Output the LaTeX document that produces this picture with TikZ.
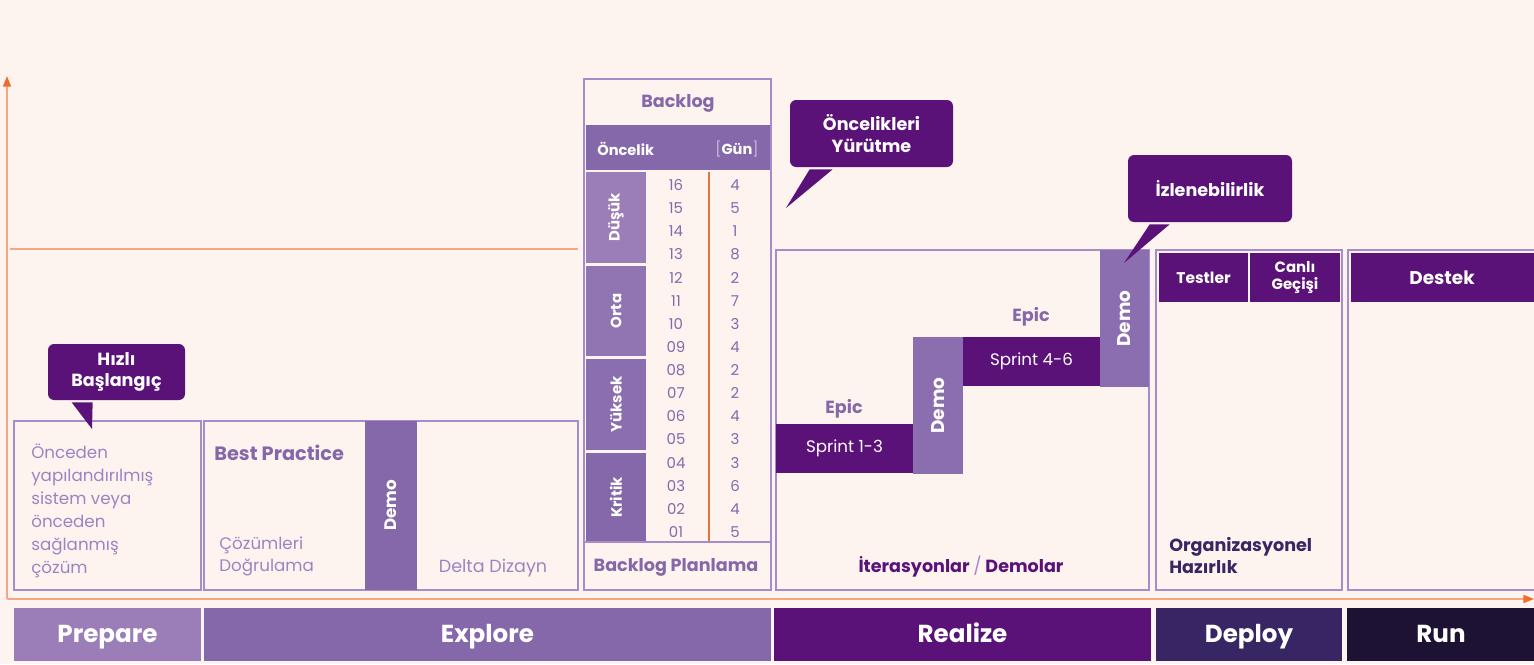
\documentclass[tikz,border=0pt]{standalone}
\usepackage{fontspec}
\setmainfont{Poppins}
\usetikzlibrary{arrows.meta, calc, positioning}
\definecolor{paper}{HTML}{FEF4EF}
\definecolor{lilac}{HTML}{A68CCA}
\definecolor{softtxt}{HTML}{9C84C3}
\definecolor{violet}{HTML}{8468AA}
\definecolor{violetlt}{HTML}{9B7DB8}
\definecolor{violetmd}{HTML}{9175B3}
\definecolor{violetdk}{HTML}{8A6EAF}
\definecolor{plum}{HTML}{5A1178}
\definecolor{indigo}{HTML}{372663}
\definecolor{night}{HTML}{1D1233}
\definecolor{axis}{HTML}{F8A584}
\definecolor{axistip}{HTML}{F26B2A}
\definecolor{rule}{HTML}{E8703A}

\begin{document}
\begin{tikzpicture}[
    x=0.02cm, y=-0.02cm,
    sz/.style 2 args={minimum width={#1*0.02cm}, minimum height={#2*0.02cm}},
    frame/.style={draw=lilac, line width=0.9pt, inner sep=0pt, outer sep=0pt, anchor=north west},
    bar/.style={fill=#1, inner sep=0pt, outer sep=0pt, anchor=north west},
    phase/.style={text=white, text height=1.6ex, text depth=0pt, font=\fontsize{14}{16}\selectfont\bfseries},
    demotxt/.style={text=white, rotate=90, font=\fontsize{9.5}{11}\selectfont\bfseries},
    cattxt/.style={text=white, rotate=90, font=\fontsize{8.5}{10}\selectfont\bfseries},
    bodytxt/.style={softtxt, inner sep=0pt, align=left, font=\fontsize{9.5}{13}\selectfont},
    numtxt/.style={violet, inner sep=0pt, font=\fontsize{8.5}{10}\selectfont},
    headtxt/.style={violet, font=\fontsize{10}{12}\selectfont\bfseries},
    callout/.style={fill=plum, rounded corners=3.5pt, text=white, align=center, inner sep=0pt,
        font=\fontsize{10}{12}\selectfont\bfseries},
    axisline/.style={axis, line width=1pt},
]

\fill[paper] (0,0) rectangle (1534,664);
\useasboundingbox (0,0) rectangle (1534,664);

% =============================================
% AXES
% =============================================
\coordinate (origin) at (7,599);
\coordinate (ytop) at (7,76);
\coordinate (xend) at (1534,599);
\draw[axisline, -{Triangle[length=6pt, width=4.5pt, color=axistip]}] (origin) -- (ytop);
\draw[axisline, -{Triangle[length=6pt, width=4.5pt, color=axistip]}] (origin) -- (xend);
\draw[axisline] (10,249) -- (578,249);

% =============================================
% PREPARE
% =============================================
\node[frame, sz={187}{169}] (prepBox) at (14,421) {};
\node[bodytxt, anchor=north west] (prepTxt) at (31,444)
  {Önceden\\yapılandırılmış\\sistem veya\\önceden\\sağlanmış\\çözüm};

% =============================================
% EXPLORE
% =============================================
\node[frame, sz={374}{169}] (explBox) at (204,421) {};
\node[bar=violet, sz={52}{169}] (explDemo) at (365,421) {};
\node[demotxt] (explDemoTxt) at (explDemo.center) {Demo};
\node[headtxt, anchor=west, inner sep=0pt, font=\fontsize{11}{13}\selectfont\bfseries] (bestTxt) at (214,453) {Best Practice};
\node[bodytxt, anchor=north west] (solveTxt) at (219,536) {Çözümleri\\Doğrulama};
\node[bodytxt, anchor=center, font=\fontsize{10}{13}\selectfont] (deltaTxt) at (493,568) {Delta Dizayn};

% =============================================
% BACKLOG TABLE
% =============================================
\node[frame, sz={187}{511}] (logBox) at (584,79) {};
\node[headtxt] (logTitle) at (678,103) {Backlog};
\node[bar=violet, sz={184}{45}] (logHead) at (586,125) {};
\node[text=white, anchor=west, inner sep=0pt, font=\fontsize{8.3}{10}\selectfont\bfseries] (prioTxt) at (597,149) {Öncelik};
\node[text=white, inner sep=0pt, font=\fontsize{8.3}{10}\selectfont\bfseries] (dayTxt) at (737,149)
  {\textcolor{lilac!60}{\mdseries[}Gün\textcolor{lilac!60}{\mdseries]}};
\node[bar=violetlt, sz={60}{91}] (catLow) at (586,172) {};
\node[bar=violetmd, sz={60}{90}] (catMid) at (586,266) {};
\node[bar=violetdk, sz={60}{91}] (catHigh) at (586,359) {};
\node[bar=violet, sz={60}{89}] (catCrit) at (586,453) {};
\node[cattxt] at (catLow.center) {Düşük};
\node[cattxt] at (catMid.center) {Orta};
\node[cattxt] at (catHigh.center) {Yüksek};
\node[cattxt] at (catCrit.center) {Kritik};
\foreach \n/\d [count=\i from 0] in {16/4,15/5,14/1,13/8,12/2,11/7,10/3,09/4,
                                      08/2,07/2,06/4,05/3,04/3,03/6,02/4,01/5} {
  \node[numtxt] (num\i) at (676,185+\i*23.13) {\n};
  \node[numtxt] (day\i) at (735,185+\i*23.13) {\d};
}
\draw[rule, line width=0.6pt] (709,172) -- (709,542);
\draw[lilac, line width=0.9pt] (584,542) -- (771,542);
\node[headtxt] (planTxt) at (676,567) {Backlog Planlama};

% =============================================
% REALIZE
% =============================================
\node[frame, sz={373}{340}] (realBox) at (776,250) {};
\node[bar=plum, sz={137}{49}] (sprintA) at (776,424) {};
\node[bar=violetdk, sz={50}{137}] (demoA) at (913,337) {};
\node[bar=plum, sz={137}{49}] (sprintB) at (963,337) {};
\node[bar=violetdk, sz={49}{137}] (demoB) at (1100,250) {};
\node[text=white, font=\fontsize{9.5}{11}\selectfont] at (sprintA.center) {Sprint 1-3};
\node[text=white, font=\fontsize{9.5}{11}\selectfont] at (sprintB.center) {Sprint 4-6};
\node[demotxt, font=\fontsize{10.5}{12}\selectfont\bfseries] at (demoA.center) {Demo};
\node[demotxt, font=\fontsize{10.5}{12}\selectfont\bfseries] at (demoB.center) {Demo};
\node[headtxt] (epicA) at (844,409) {Epic};
\node[headtxt] (epicB) at (1031,317) {Epic};
\node[plum, font=\fontsize{10}{12}\selectfont\bfseries] (iterTxt) at (961,567)
  {İterasyonlar \textcolor{lilac}{\mdseries/} Demolar};

% =============================================
% DEPLOY
% =============================================
\node[frame, sz={186}{340}] (depBox) at (1156,250) {};
\node[bar=plum, sz={89}{49}] (testBar) at (1159,253) {};
\node[bar=plum, sz={90}{49}] (liveBar) at (1250,253) {};
\node[text=white, font=\fontsize{8.8}{10}\selectfont\bfseries] at (testBar.center) {Testler};
\node[text=white, align=center, font=\fontsize{8.5}{9.8}\selectfont\bfseries] at (liveBar.center) {Canlı\\Geçişi};
\node[indigo, anchor=north west, inner sep=0pt, align=left, font=\fontsize{10}{12.5}\selectfont\bfseries]
  (orgTxt) at (1169,537) {Organizasyonel\\Hazırlık};

% =============================================
% RUN
% =============================================
\node[frame, sz={200}{340}] (runBox) at (1348,250) {};
\node[bar=plum, sz={190}{49}] (supBar) at (1351,253) {};
\node[text=white, font=\fontsize{10.5}{12}\selectfont\bfseries] at ($(supBar.west)+(91,0)$) {Destek};

% =============================================
% CALLOUTS
% =============================================
\node[callout, sz={137}{56}] (callPrep) at (116.5,372) {Hızlı\\Başlangıç};
\coordinate (tipPrep) at (92,429);
\fill[plum] ($(callPrep.south west)+(24,2)$) -- (tipPrep) -- ($(callPrep.south west)+(45,2)$) -- cycle;

\node[callout, sz={163}{67}] (callRun) at (871.5,133.5) {Öncelikleri\\Yürütme};
\coordinate (tipRun) at (786,208);
\fill[plum] ($(callRun.south west)+(20,2)$) -- (tipRun) -- ($(callRun.south west)+(43,2)$) -- cycle;

\node[callout, sz={164}{67}] (callTrace) at (1210,188.5) {İzlenebilirlik};
\coordinate (tipTrace) at (1124,263);
\fill[plum] ($(callTrace.south west)+(22,2)$) -- (tipTrace) -- ($(callTrace.south west)+(42,2)$) -- cycle;

% =============================================
% PHASE BARS
% =============================================
\node[bar=violetlt, sz={187}{53}] (prepPhase) at (14,608) {};
\node[bar=violet, sz={567}{53}] (explPhase) at (204,608) {};
\node[bar=plum, sz={377}{53}] (realPhase) at (774,608) {};
\node[bar=indigo, sz={186}{53}] (depPhase) at (1156,608) {};
\node[bar=night, sz={190}{53}] (runPhase) at (1347,608) {};
\node[phase] at (prepPhase.center) {Prepare};
\node[phase] at (explPhase.center) {Explore};
\node[phase] at (realPhase.center) {Realize};
\node[phase] at (depPhase.center) {Deploy};
\node[phase] at ($(runPhase.west)+(94,0)$) {Run};

\end{tikzpicture}
\end{document}
